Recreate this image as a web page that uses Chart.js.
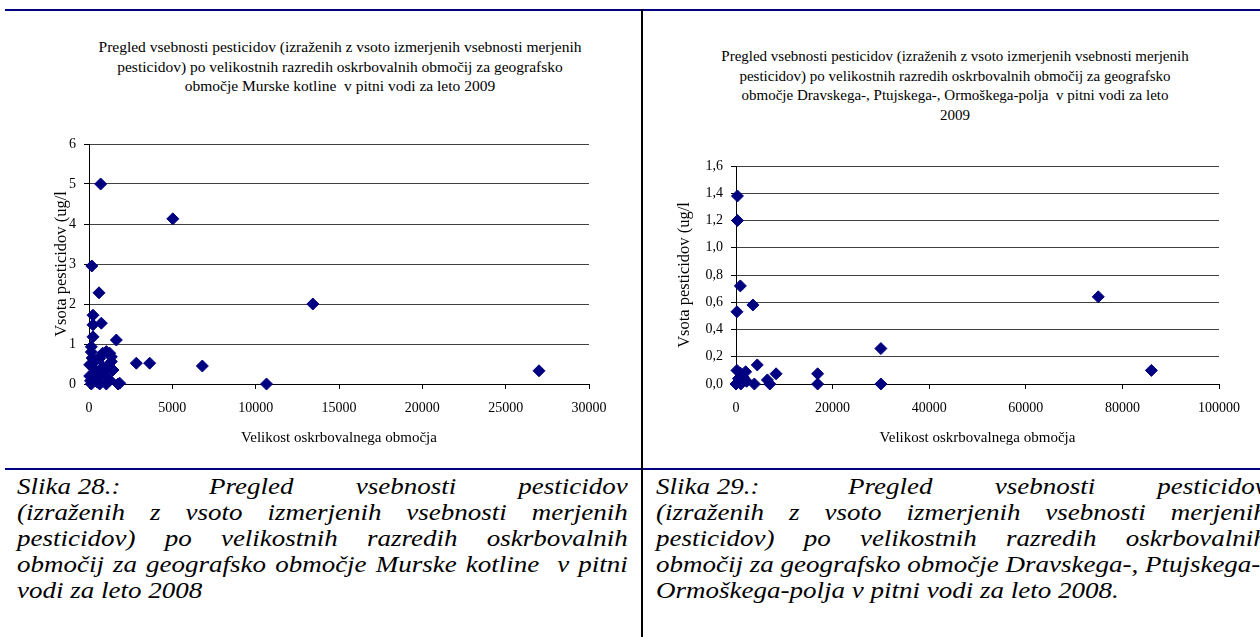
<!DOCTYPE html>
<html>
<head>
<meta charset="utf-8">
<script src="https://cdn.jsdelivr.net/npm/chart.js@4.4.1/dist/chart.umd.min.js"></script>
<style>
  html, body { margin: 0; padding: 0; background: #fff; }
  body { width: 1260px; height: 637px; position: relative; overflow: hidden;
         font-family: "Liberation Serif", "Times New Roman", serif; color: #000; }
  .rule  { position: absolute; background: #000080; }
  .vrule { position: absolute; background: #000; }
  .ctitle { position: absolute; width: 600px; text-align: center;
            line-height: 19.5px; white-space: nowrap; }
  .cap { position: absolute; top: 474px; width: 509px; transform: scaleX(1.2);
         transform-origin: 0 0; font-style: italic; font-size: 22.5px; line-height: 26px; }
  .cap div { white-space: nowrap; text-align: justify; text-align-last: justify; }
  .cap div.last { text-align: left; text-align-last: left; }
  .cap .lead { display: inline-block; white-space: pre; margin-right: 22px; }
  canvas { position: absolute; }
</style>
</head>
<body>

<div class="rule" style="left:5px; top:9px; width:1255px; height:2px;"></div>
<div class="rule" style="left:5px; top:468px; width:1255px; height:2px;"></div>
<div class="vrule" style="left:641px; top:9px; width:2px; height:628px;"></div>

<div class="ctitle" style="left:40px; top:37px; font-size:15.5px;">Pregled vsebnosti pesticidov (izraženih z vsoto izmerjenih vsebnosti merjenih<br>pesticidov) po velikostnih razredih oskrbovalnih območij za geografsko<br>območje Murske kotline&nbsp; v pitni vodi za leto 2009</div>
<div class="ctitle" style="left:655px; top:47px; font-size:15px;">Pregled vsebnosti pesticidov (izraženih z vsoto izmerjenih vsebnosti merjenih<br>pesticidov) po velikostnih razredih oskrbovalnih območij za geografsko<br>območje Dravskega-, Ptujskega-, Ormoškega-polja&nbsp; v pitni vodi za leto<br>2009</div>

<canvas id="murska" width="640" height="350" style="left:0px; top:120px;"></canvas>
<canvas id="drava" width="616" height="350" style="left:644px; top:120px;"></canvas>

<div class="cap" style="left:17px;">
  <div><span class="lead">Slika 28.:</span> Pregled vsebnosti pesticidov</div>
  <div>(izraženih z vsoto izmerjenih vsebnosti merjenih</div>
  <div>pesticidov) po velikostnih razredih oskrbovalnih</div>
  <div>območij za geografsko območje Murske kotline&nbsp; v pitni</div>
  <div class="last">vodi za leto 2008</div>
</div>
<div class="cap" style="left:656px;">
  <div><span class="lead">Slika 29.:</span> Pregled vsebnosti pesticidov</div>
  <div>(izraženih z vsoto izmerjenih vsebnosti merjenih</div>
  <div>pesticidov) po velikostnih razredih oskrbovalnih</div>
  <div>območij za geografsko območje Dravskega-, Ptujskega-,</div>
  <div class="last">Ormoškega-polja v pitni vodi za leto 2008.</div>
</div>

<script>
// Murska kotlina: size of supply area vs. summed pesticide content (ug/l)
const murskaSize = [700, 5030, 170, 600, 240, 740, 240, 240, 1640, 140, 1040, 140, 1340, 640,
  2840, 3640, 6800, 40, 840, 1440, 40, 640, 1240, 140, 640, 1040, 1840, 820, 1240, 1340,
  340, 1040, 1740, 10650, 13430, 27000, 440, 940, 540, 290, 190, 1140, 90, 490, 390];
const murskaSum = [5.0, 4.13, 2.95, 2.28, 1.72, 1.52, 1.48, 1.18, 1.1, 0.93, 0.81, 0.8, 0.68, 0.64,
  0.52, 0.52, 0.45, 0.48, 0.43, 0.35, 0.2, 0.25, 0.1, 0, 0, 0, 0.02, 0.77, 0.77, 0.56,
  0.27, 0.18, 0, 0, 2.0, 0.33, 0.6, 0.3, 0.12, 0.38, 0.65, 0.45, 0.08, 0.05, 0.15];

// Dravsko, Ptujsko, Ormoško polje
const dravSize = [300, 300, 900, 200, 3500, 200, 900, 2000, 4400, 8300, 16900, 16900,
  30000, 30000, 75000, 86000, 0, 1000, 2200, 3800, 7000, 500, 1500, 6500];
const dravSum = [1.38, 1.2, 0.72, 0.53, 0.58, 0.1, 0.08, 0.09, 0.14, 0.075, 0.075, 0,
  0.26, 0, 0.64, 0.1, 0, 0, 0.02, 0, 0, 0.04, 0.05, 0.03];

// Axis tick labels
const murskaXTicks = ['0', '5000', '10000', '15000', '20000', '25000', '30000'];
const murskaYTicks = ['0', '1', '2', '3', '4', '5', '6'];
const dravXTicks = ['0', '20000', '40000', '60000', '80000', '100000'];
const dravYTicks = ['0,0', '0,2', '0,4', '0,6', '0,8', '1,0', '1,2', '1,4', '1,6'];

const NAVY = '#000080';
const SERIF = "'Liberation Serif', 'Times New Roman', serif";

function scatterChart(id, sizes, sums, xTicks, yTicks, xAxis, yAxis, box) {
  const points = sizes.map((x, i) => ({ x: x, y: sums[i] }));
  return new Chart(document.getElementById(id), {
    type: 'scatter',
    data: {
      datasets: [{
        data: points,
        pointStyle: 'rectRot',
        pointRadius: 6,
        pointHoverRadius: 6,
        backgroundColor: NAVY,
        borderColor: NAVY,
        borderWidth: 1,
        clip: false
      }]
    },
    options: {
      responsive: false,
      animation: false,
      events: [],
      layout: { padding: { top: box.top, right: box.right, left: 0, bottom: 0 } },
      plugins: { legend: { display: false }, tooltip: { enabled: false } },
      scales: {
        x: {
          type: 'linear',
          min: xAxis.min, max: xAxis.max,
          afterFit: s => { s.height = box.xh; },
          grid: { drawOnChartArea: false, drawTicks: true, tickLength: 5, color: '#000', tickColor: '#000' },
          border: { display: true, color: '#000', width: 1 },
          ticks: {
            stepSize: xAxis.step, autoSkip: false, maxRotation: 0, padding: 11,
            color: '#000', font: { family: SERIF, size: 14 },
            callback: (v, i) => xTicks[i]
          },
          title: {
            display: true, text: 'Velikost oskrbovalnega območja', color: '#000',
            font: { family: SERIF, size: 15 }, padding: { top: 0, bottom: box.xtp }
          }
        },
        y: {
          type: 'linear',
          min: yAxis.min, max: yAxis.max,
          afterFit: s => { s.width = box.yw; },
          grid: { color: '#404040', lineWidth: 1, drawTicks: true, tickLength: 5, tickColor: '#000' },
          border: { display: true, color: '#000', width: 1 },
          ticks: {
            stepSize: yAxis.step, autoSkip: false, padding: 8,
            color: '#000', font: { family: SERIF, size: 14 },
            callback: (v, i) => yTicks[i]
          },
          title: {
            display: true, text: 'Vsota pesticidov (ug/l', color: '#000',
            font: { family: SERIF, size: 16.5 }, padding: { top: box.ytp, bottom: 0 }
          }
        }
      }
    }
  });
}

scatterChart('murska', murskaSize, murskaSum, murskaXTicks, murskaYTicks,
  { min: 0, max: 30000, step: 5000 }, { min: 0, max: 6, step: 1 },
  { top: 24, right: 51, yw: 89, xh: 86, xtp: 23, ytp: 52 });

scatterChart('drava', dravSize, dravSum, dravXTicks, dravYTicks,
  { min: 0, max: 100000, step: 20000 }, { min: 0, max: 1.6, step: 0.2 },
  { top: 46, right: 41, yw: 92, xh: 86, xtp: 23, ytp: 31 });
</script>
</body>
</html>
